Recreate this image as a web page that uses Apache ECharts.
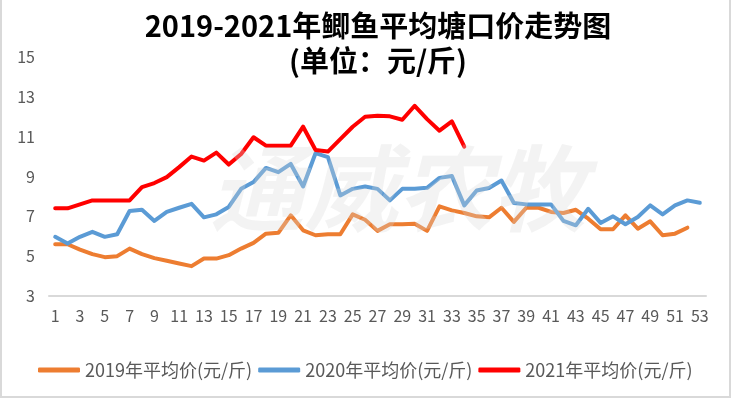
<!DOCTYPE html>
<html>
<head>
<meta charset="utf-8">
<script src="https://cdn.jsdelivr.net/npm/echarts@6/dist/echarts.min.js"></script>
<style>
  html, body { margin: 0; padding: 0; background: #fff; }
  #chart { width: 733px; height: 399px; }
</style>
</head>
<body>
<div id="chart"></div>
<script>
// 周次 1-53
const weeks = []
for (let i = 1; i <= 53; i++) weeks.push(String(i))

const yTicks = [3, 5, 7, 9, 11, 13, 15]

// 2019年平均价(元/斤)
const price2019 = [
  5.6, 5.6, 5.33, 5.1, 4.95, 5.0, 5.38, 5.1, 4.9, 4.77,
  4.63, 4.5, 4.88, 4.88, 5.05, 5.38, 5.67, 6.13, 6.17, 7.05,
  6.3, 6.05, 6.1, 6.1, 7.1, 6.83, 6.27, 6.6, 6.6, 6.63,
  6.27, 7.5, 7.3, 7.17, 7.0, 6.95, 7.43, 6.72, 7.43, 7.43,
  7.22, 7.17, 7.33, 6.88, 6.35, 6.35, 7.05, 6.38, 6.75, 6.05,
  6.13, 6.43
]

// 2020年平均价(元/斤)
const price2020 = [
  5.97, 5.63, 5.97, 6.22, 5.97, 6.1, 7.27, 7.33, 6.77, 7.22,
  7.43, 7.63, 6.95, 7.1, 7.47, 8.38, 8.72, 9.43, 9.22, 9.63,
  8.5, 10.17, 9.97, 8.05, 8.38, 8.5, 8.38, 7.8, 8.38, 8.38,
  8.43, 8.93, 9.02, 7.55, 8.3, 8.42, 8.8, 7.67, 7.6, 7.6,
  7.6, 6.77, 6.55, 7.38, 6.67, 7.0, 6.6, 6.97, 7.55, 7.1,
  7.55, 7.8, 7.68
]

// 2021年平均价(元/斤)
const price2021 = [
  7.4, 7.4, 7.6, 7.8, 7.8, 7.8, 7.8, 8.47, 8.67, 8.97,
  9.47, 10.0, 9.8, 10.2, 9.6, 10.13, 10.97, 10.55, 10.55, 10.55,
  11.5, 10.33, 10.25, 10.88, 11.5, 12.0, 12.05, 12.02, 11.85, 12.55,
  11.88, 11.3, 11.77, 10.5
]

const seriesNames = ['2019年平均价(元/斤)', '2020年平均价(元/斤)', '2021年平均价(元/斤)']
const colors = ['#ED7D31', '#5B9BD5', '#FF0000']

const FONT = '"Noto Sans CJK SC", "Noto Sans", sans-serif'

var chartDom = document.getElementById('chart')
var myChart = echarts.init(chartDom)
var option

const makeLine = (name, data, color) => ({
  name: name,
  type: 'line',
  data: data,
  showSymbol: false,
  symbol: 'none',
  lineStyle: { color: color, width: 4, join: 'round', cap: 'round' },
  itemStyle: { color: color }
})

option = {
  animation: false,
  backgroundColor: '#fff',
  color: colors,
  title: {
    text: '2019-2021年鲫鱼平均塘口价走势图\n(单位：元/斤)',
    left: 373,
    top: 3,
    textAlign: 'center',
    textStyle: {
      fontFamily: FONT,
      fontSize: 29,
      fontWeight: 'bold',
      color: '#000',
      lineHeight: 35
    }
  },
  legend: {
    data: seriesNames,
    left: 33,
    top: 356,
    icon: 'roundRect',
    itemWidth: 42,
    itemHeight: 5,
    itemGap: 6,
    textStyle: { fontFamily: FONT, fontSize: 18, color: '#595959' }
  },
  grid: { left: 49, right: 27, top: 57, bottom: 103 },
  xAxis: {
    type: 'category',
    boundaryGap: true,
    data: weeks,
    axisLine: { lineStyle: { color: '#d9d9d9', width: 2 } },
    axisTick: { show: false },
    axisLabel: {
      interval: 1,
      margin: 12,
      fontFamily: FONT,
      fontSize: 16,
      color: '#595959'
    }
  },
  yAxis: {
    type: 'value',
    min: yTicks[0],
    max: yTicks[yTicks.length - 1],
    interval: 2,
    splitLine: { show: false },
    axisLine: { show: false },
    axisTick: { show: false },
    axisLabel: { margin: 14, fontFamily: FONT, fontSize: 16, color: '#595959' }
  },
  graphic: [
    {
      type: 'text',
      z: 100,
      silent: true,
      style: {
        text: '通威农牧',
        x: 398,
        y: 188,
        align: 'center',
        verticalAlign: 'middle',
        font: 'italic bold 94px ' + FONT,
        fill: 'rgba(215,215,215,0.3)'
      }
    },
    {
      type: 'rect',
      z: 100,
      silent: true,
      shape: { x: 1, y: -5, width: 729, height: 402 },
      style: { fill: 'none', stroke: '#d9d9d9', lineWidth: 2 }
    }
  ],
  series: [
    makeLine(seriesNames[0], price2019, colors[0]),
    makeLine(seriesNames[1], price2020, colors[1]),
    makeLine(seriesNames[2], price2021, colors[2])
  ]
}

option && myChart.setOption(option)
</script>
</body>
</html>
